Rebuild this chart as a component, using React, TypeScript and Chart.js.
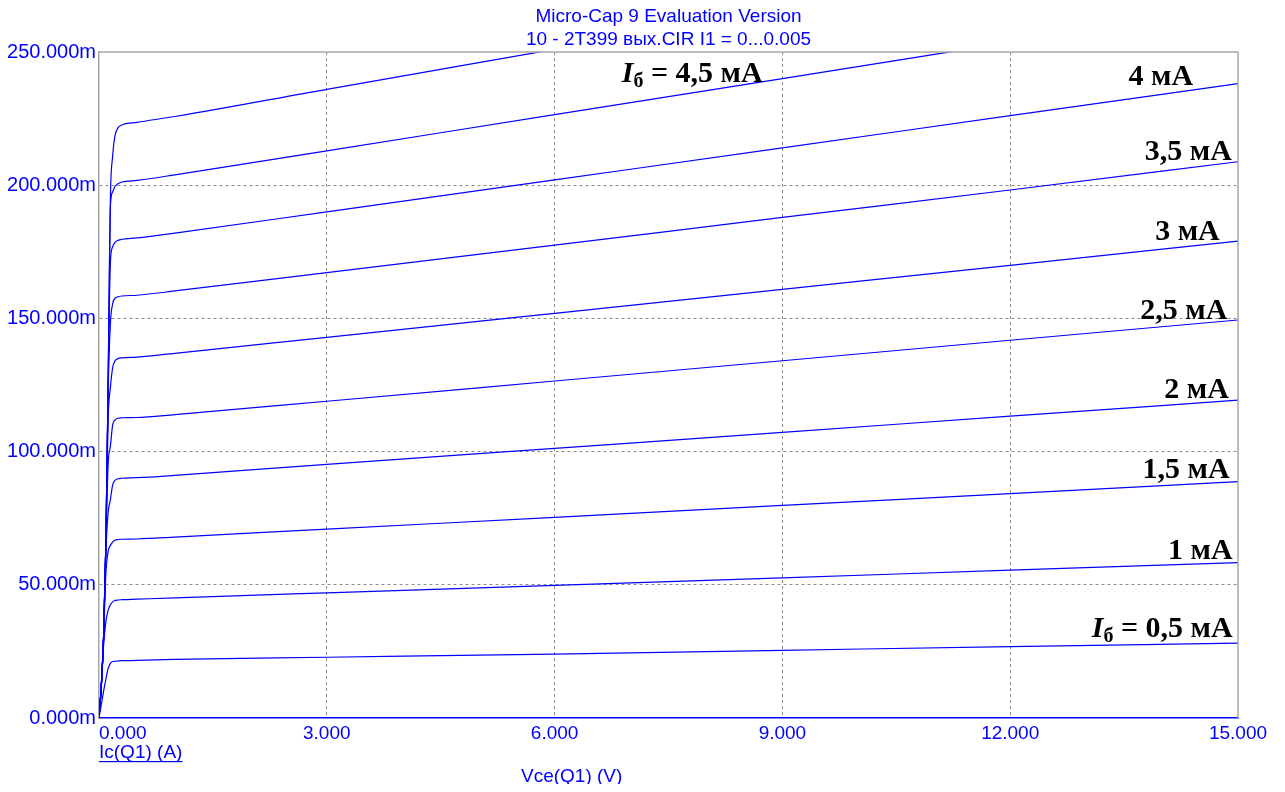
import React, { useEffect, useRef } from 'react';
import { Chart, registerables } from 'chart.js';

Chart.register(...registerables);

// Vce (V) sample points shared by all curves
const vce = [0, 0.03, 0.06, 0.09, 0.12, 0.15, 0.18, 0.21, 0.25, 0.3, 0.5, 1, 3, 6, 9, 12, 15];

// Ic (mA) for base currents 0.5 ... 5 mA
const ic05 = [0, 5, 10, 14.5, 18.5, 20.5, 21.2, 21.3, 21.4, 21.5, 21.6, 22.0, 22.8, 24.0, 25.4, 26.8, 28.1];
const ic10 = [0, 11, 27, 36, 40.5, 42.5, 43.6, 44.1, 44.3, 44.4, 44.6, 45.1, 47.0, 49.8, 52.6, 55.5, 58.3];
const ic15 = [0, 12, 30, 54, 62.5, 64.8, 66.0, 66.7, 67.0, 67.1, 67.2, 67.9, 70.9, 75.3, 79.8, 84.2, 88.7];
const ic20 = [0, 12, 30, 62, 77, 82, 87.5, 89.2, 89.8, 90.0, 90.2, 91.1, 95.2, 101.2, 107.2, 113.3, 119.3];
const ic25 = [0, 12, 30, 64, 95, 102, 110, 111.8, 112.5, 112.7, 112.8, 113.9, 118.9, 126.5, 134.1, 141.8, 149.4];
const ic30 = [0, 12, 30, 65, 112, 124, 131.5, 134, 134.9, 135.2, 135.5, 136.9, 142.9, 151.9, 160.9, 169.9, 179.0];
const ic35 = [0, 12, 30, 65, 122, 148, 155.5, 157.5, 158.1, 158.4, 158.7, 160.3, 167.2, 177.5, 187.9, 198.2, 208.8];
const ic40 = [0, 12, 30, 65, 125, 171, 176.9, 178.5, 179.3, 179.7, 180.2, 182.0, 190.0, 202.0, 214.0, 226.1, 238.1];
const ic45 = [0, 12, 30, 65, 125, 192, 197.5, 199.5, 200.5, 201.2, 201.8, 203.9, 212.9, 226.5, 240.0, 253.6, 267.2];
const ic50 = [0, 12, 30, 65, 125, 195, 211, 218.5, 221.5, 222.6, 223.6, 225.8, 236.0, 251.0, 266.0, 281.0, 296.0];

const curves = [ic05, ic10, ic15, ic20, ic25, ic30, ic35, ic40, ic45, ic50];

// Axis ranges / ticks
const xTicks = [0, 3, 6, 9, 12, 15];
const yTicks = [0, 50, 100, 150, 200, 250];

// Texts
const titleLines = ['Micro-Cap 9 Evaluation Version', '10 - 2T399 вых.CIR I1 = 0...0.005'];
const yAxisTitle = 'Ic(Q1) (A)';
const xAxisTitle = 'Vce(Q1) (V)';

// Curve annotations: text, whether it has the "Iб =" prefix, anchor (right edge V, baseline mA)
const annotTexts = ['0,5 мА', '1 мА', '1,5 мА', '2 мА', '2,5 мА', '3 мА', '3,5 мА', '4 мА', '4,5 мА'];
const annotPrefix = [true, false, false, false, false, false, false, false, true];
const annotV = [14.93, 14.93, 14.89, 14.88, 14.86, 14.76, 14.92, 14.41, 8.74];
const annotI = [30.4, 59.7, 90.1, 120.1, 149.8, 179.4, 209.5, 237.6, 238.7];

const BLUE = '#0000ff';
const SANS = '"Liberation Sans", Arial, sans-serif';
const SERIF = '"Liberation Serif", "Times New Roman", serif';

const overlay = {
  id: 'overlay',
  afterDraw(chart: any) {
    const { ctx, chartArea: a, scales } = chart;
    const xs = scales.x;
    const ys = scales.y;
    ctx.save();
    // top and right frame
    ctx.strokeStyle = '#a8a8a8';
    ctx.lineWidth = 1.5;
    ctx.beginPath();
    ctx.moveTo(a.left, a.top);
    ctx.lineTo(a.right, a.top);
    ctx.lineTo(a.right, a.bottom);
    ctx.stroke();

    // title
    ctx.fillStyle = BLUE;
    ctx.font = '19px ' + SANS;
    ctx.textAlign = 'center';
    ctx.textBaseline = 'alphabetic';
    const cx = (a.left + a.right) / 2;
    ctx.fillText(titleLines[0], cx, a.top - 30);
    ctx.fillText(titleLines[1], cx, a.top - 7);

    // first x tick label, left aligned
    ctx.font = '19px ' + SANS;
    ctx.textAlign = 'left';
    ctx.textBaseline = 'alphabetic';
    ctx.fillText(xTicks[0].toFixed(3), a.left, a.bottom + 21);

    // y-axis title (underlined) under the axis
    ctx.fillText(yAxisTitle, a.left, a.bottom + 40);
    const w = ctx.measureText(yAxisTitle).width;
    ctx.fillRect(a.left, a.bottom + 43, w, 1.2);

    // x-axis title
    ctx.textAlign = 'center';
    ctx.fillText(xAxisTitle, a.left + (a.right - a.left) * 0.415, a.bottom + 64);

    // curve annotations
    ctx.fillStyle = '#000000';
    ctx.textAlign = 'left';
    for (let i = 0; i < annotTexts.length; i++) {
      const rx = xs.getPixelForValue(annotV[i]);
      const by = ys.getPixelForValue(annotI[i]);
      const main = annotPrefix[i] ? ' = ' + annotTexts[i] : annotTexts[i];
      ctx.font = 'bold 30px ' + SERIF;
      const wMain = ctx.measureText(main).width;
      let wI = 0;
      let wSub = 0;
      if (annotPrefix[i]) {
        ctx.font = 'italic bold 30px ' + SERIF;
        wI = ctx.measureText('I').width;
        ctx.font = 'bold 20px ' + SERIF;
        wSub = ctx.measureText('б').width;
      }
      let x = rx - (wI + wSub + wMain);
      if (annotPrefix[i]) {
        ctx.font = 'italic bold 30px ' + SERIF;
        ctx.fillText('I', x, by);
        x += wI;
        ctx.font = 'bold 20px ' + SERIF;
        ctx.fillText('б', x, by + 5);
        x += wSub;
      }
      ctx.font = 'bold 30px ' + SERIF;
      ctx.fillText(main, x, by);
    }
    ctx.restore();
  },
};

export default function App() {
  const ref = useRef<HTMLCanvasElement | null>(null);

  useEffect(() => {
    if (!ref.current) return;
    const chart = new Chart(ref.current, {
      type: 'line',
      data: {
        datasets: curves.map((c, i) => ({
          label: 'Ib ' + (0.5 * (i + 1)).toFixed(1) + ' mA',
          data: vce.map((v, k) => ({ x: v, y: c[k] })),
          borderColor: BLUE,
          borderWidth: 1.2,
          pointRadius: 0,
          fill: false,
          cubicInterpolationMode: 'monotone' as const,
        })),
      },
      options: {
        animation: false,
        responsive: true,
        maintainAspectRatio: false,
        devicePixelRatio: 1,
        layout: { padding: { top: 44, right: 39, bottom: 0, left: 0 } },
        plugins: {
          legend: { display: false },
          tooltip: { enabled: false },
          title: { display: false },
        },
        scales: {
          x: {
            type: 'linear',
            min: xTicks[0],
            max: xTicks[xTicks.length - 1],
            afterFit: (s: any) => {
              s.height = 66;
            },
            afterBuildTicks: (s: any) => {
              s.ticks = xTicks.map((v) => ({ value: v }));
            },
            ticks: {
              autoSkip: false,
              maxRotation: 0,
              padding: 4,
              color: BLUE,
              font: { family: SANS, size: 19 },
              callback: (v: any) => (v === xTicks[0] ? '' : Number(v).toFixed(3)),
            },
            grid: {
              drawTicks: false,
              color: (c: any) =>
                c.tick && (c.tick.value === xTicks[0] || c.tick.value === xTicks[xTicks.length - 1])
                  ? 'rgba(0,0,0,0)'
                  : '#8c8c8c',
              lineWidth: 1,
            },
            border: { display: true, color: BLUE, width: 1.5, dash: [3, 3] },
          },
          y: {
            type: 'linear',
            min: yTicks[0],
            max: yTicks[yTicks.length - 1],
            afterFit: (s: any) => {
              s.width = 91;
            },
            afterBuildTicks: (s: any) => {
              s.ticks = yTicks.map((v) => ({ value: v }));
            },
            ticks: {
              autoSkip: false,
              padding: 3,
              color: BLUE,
              font: { family: SANS, size: 20 },
              callback: (v: any) => Number(v).toFixed(3) + 'm',
            },
            grid: {
              drawTicks: false,
              color: (c: any) =>
                c.tick && (c.tick.value === yTicks[0] || c.tick.value === yTicks[yTicks.length - 1])
                  ? 'rgba(0,0,0,0)'
                  : '#8c8c8c',
              lineWidth: 1,
            },
            border: { display: true, color: '#a8a8a8', width: 1.5, dash: [3, 3] },
          },
        },
      },
      plugins: [overlay],
    });
    return () => chart.destroy();
  }, []);

  return (
    <div style={{ position: 'relative', width: '1269px', height: '776px' }}>
      <canvas ref={ref} />
    </div>
  );
}
